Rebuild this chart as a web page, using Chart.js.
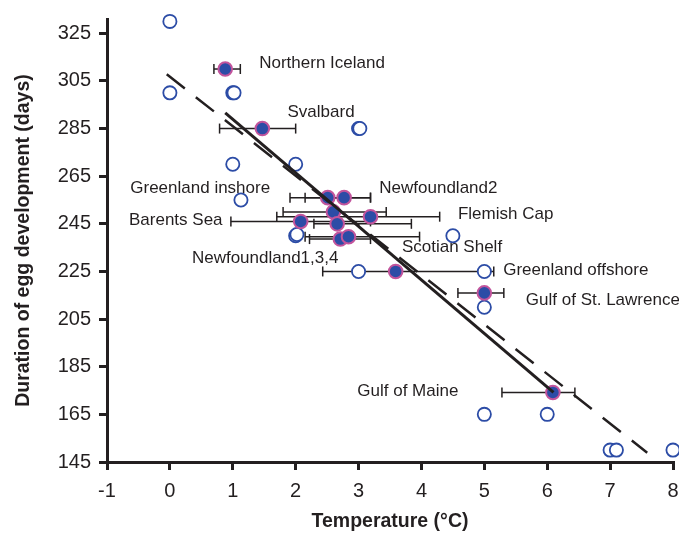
<!DOCTYPE html>
<html>
<head>
<meta charset="utf-8">
<script src="https://cdn.jsdelivr.net/npm/chart.js@4.4.0/dist/chart.umd.min.js"></script>
<style>
  html, body { margin: 0; padding: 0; background: #fff; }
  #eggChart { display: block; }
</style>
</head>
<body>
<canvas id="eggChart" width="679" height="535"></canvas>
<script>
// axis ticks
const xTicks = [-1, 0, 1, 2, 3, 4, 5, 6, 7, 8];
const yTicks = [145, 165, 185, 205, 225, 245, 265, 285, 305, 325];

// laboratory incubations (open circles)
const labTemp = [0, 0, 1, 1.02, 1, 1.13, 2, 3, 3.02, 2, 2.02, 4.5, 3, 5, 5, 5, 6, 7, 7.1, 8];
const labDays = [330, 300, 300, 300, 270, 255, 270, 285, 285, 240, 240.5, 240, 225, 225, 210, 165, 165, 150, 150, 150];

// field sites (filled circles) with their temperature range
const siteTemp     = [0.88, 1.47, 2.51, 2.77, 2.60, 3.19, 2.08, 2.66, 2.71, 2.84, 3.59, 5.00, 6.09];
const siteDays     = [310, 285, 256, 256, 250, 248, 246, 245, 238.6, 239.6, 225, 216, 174.2];
const siteTempLow  = [0.70, 0.79, 1.91, 2.15, 1.80, 1.70, 0.97, 2.29, 2.22, 2.15, 2.43, 4.58, 5.28];
const siteTempHigh = [1.12, 2.00, 3.19, 3.19, 3.44, 4.29, 3.19, 3.84, 3.19, 3.97, 5.15, 5.31, 6.44];

// regression lines (end points)
const fieldFitTemp = [0.88, 6.10];
const fieldFitDays = [291.6, 174.2];
const labFitTemp = [-0.05, 7.59];
const labFitDays = [307.8, 148.9];

// site names and where they sit
const siteNames = ['Northern Iceland', 'Svalbard', 'Greenland inshore', 'Newfoundland2', 'Barents Sea',
  'Flemish Cap', 'Scotian Shelf', 'Newfoundland1,3,4', 'Greenland offshore', 'Gulf of St. Lawrence', 'Gulf of Maine'];
const nameTemp = [1.42, 1.87, -0.63, 3.33, -0.65, 4.58, 3.69, 0.35, 5.30, 5.66, 2.98];
const nameDays = [312.4, 291.8, 259.9, 259.9, 246.3, 249.0, 235.2, 230.5, 225.6, 213.0, 174.8];

const ink = '#231f20';
const blue = '#2c4ca6';
const magenta = '#c2549c';
const fontFamily = '"Liberation Sans", Arial, Helvetica, sans-serif';

Chart.defaults.font.family = fontFamily;
Chart.defaults.color = ink;

const toPoints = (xs, ys) => xs.map((x, i) => ({ x: x, y: ys[i] }));

const errorBars = siteTemp.map((t, i) => ({
  type: 'line',
  data: [{ x: siteTempLow[i], y: siteDays[i] }, { x: siteTempHigh[i], y: siteDays[i] }],
  borderColor: ink,
  borderWidth: 1.5,
  pointStyle: 'line',
  pointRotation: 90,
  pointRadius: 5,
  pointBorderWidth: 1.5,
  pointBorderColor: ink,
  clip: false,
  order: 4
}));

const siteNamePlugin = {
  id: 'siteNames',
  afterDatasetsDraw(chart) {
    const { ctx, scales: { x, y } } = chart;
    ctx.save();
    ctx.font = '17px ' + fontFamily;
    ctx.fillStyle = ink;
    ctx.textAlign = 'left';
    ctx.textBaseline = 'middle';
    siteNames.forEach((name, i) => {
      ctx.fillText(name, x.getPixelForValue(nameTemp[i]), y.getPixelForValue(nameDays[i]));
    });
    ctx.restore();
  }
};

// keep the plot frame fixed: no extra room for overhanging tick labels
const noOverhang = s => { s.paddingLeft = 0; s.paddingRight = 0; s.paddingTop = 0; s.paddingBottom = 0; };

new Chart(document.getElementById('eggChart').getContext('2d'), {
  type: 'scatter',
  data: {
    datasets: [
      {
        type: 'line',
        data: toPoints(fieldFitTemp, fieldFitDays),
        borderColor: ink,
        borderWidth: 3,
        pointRadius: 0,
        clip: false,
        order: 0
      },
      {
        type: 'line',
        data: toPoints(labFitTemp, labFitDays),
        borderColor: ink,
        borderWidth: 2.5,
        borderDash: [23, 14],
        pointRadius: 0,
        clip: false,
        order: 1
      },
      {
        data: toPoints(siteTemp, siteDays),
        pointRadius: 6.8,
        pointBackgroundColor: blue,
        pointBorderColor: magenta,
        pointBorderWidth: 2,
        clip: false,
        order: 2
      },
      {
        data: toPoints(labTemp, labDays),
        pointRadius: 6.6,
        pointBackgroundColor: '#ffffff',
        pointBorderColor: blue,
        pointBorderWidth: 1.8,
        clip: false,
        order: 3
      },
      ...errorBars
    ]
  },
  options: {
    responsive: false,
    devicePixelRatio: 1,
    animation: false,
    layout: { autoPadding: false, padding: { top: 19, right: 6, left: 0, bottom: 0 } },
    plugins: { legend: { display: false }, tooltip: { enabled: false } },
    scales: {
      x: {
        type: 'linear',
        min: -1,
        max: 8,
        afterBuildTicks: s => { s.ticks = xTicks.map(v => ({ value: v })); },
        afterFit: s => { s.height = 73; noOverhang(s); },
        border: { color: ink, width: 3 },
        grid: { drawOnChartArea: false, drawTicks: true, tickLength: 8, lineWidth: 3, color: ink },
        ticks: { color: ink, font: { size: 20 }, padding: 9 },
        title: {
          display: true,
          text: 'Temperature (°C)',
          color: ink,
          font: { size: 19.5, weight: 'bold' },
          padding: { top: 0, bottom: 2 }
        }
      },
      y: {
        type: 'linear',
        min: 145,
        max: 331,
        afterBuildTicks: s => { s.ticks = yTicks.map(v => ({ value: v })); },
        afterFit: s => { s.width = 107; noOverhang(s); },
        border: { color: ink, width: 3 },
        grid: { drawOnChartArea: false, drawTicks: true, tickLength: 8, lineWidth: 3, color: ink },
        ticks: { color: ink, font: { size: 20 }, padding: 8 },
        title: {
          display: true,
          text: 'Duration of egg development (days)',
          color: ink,
          font: { size: 19.5, weight: 'bold' },
          padding: { top: 12, bottom: 0 }
        }
      }
    }
  },
  plugins: [siteNamePlugin]
});
</script>
</body>
</html>
